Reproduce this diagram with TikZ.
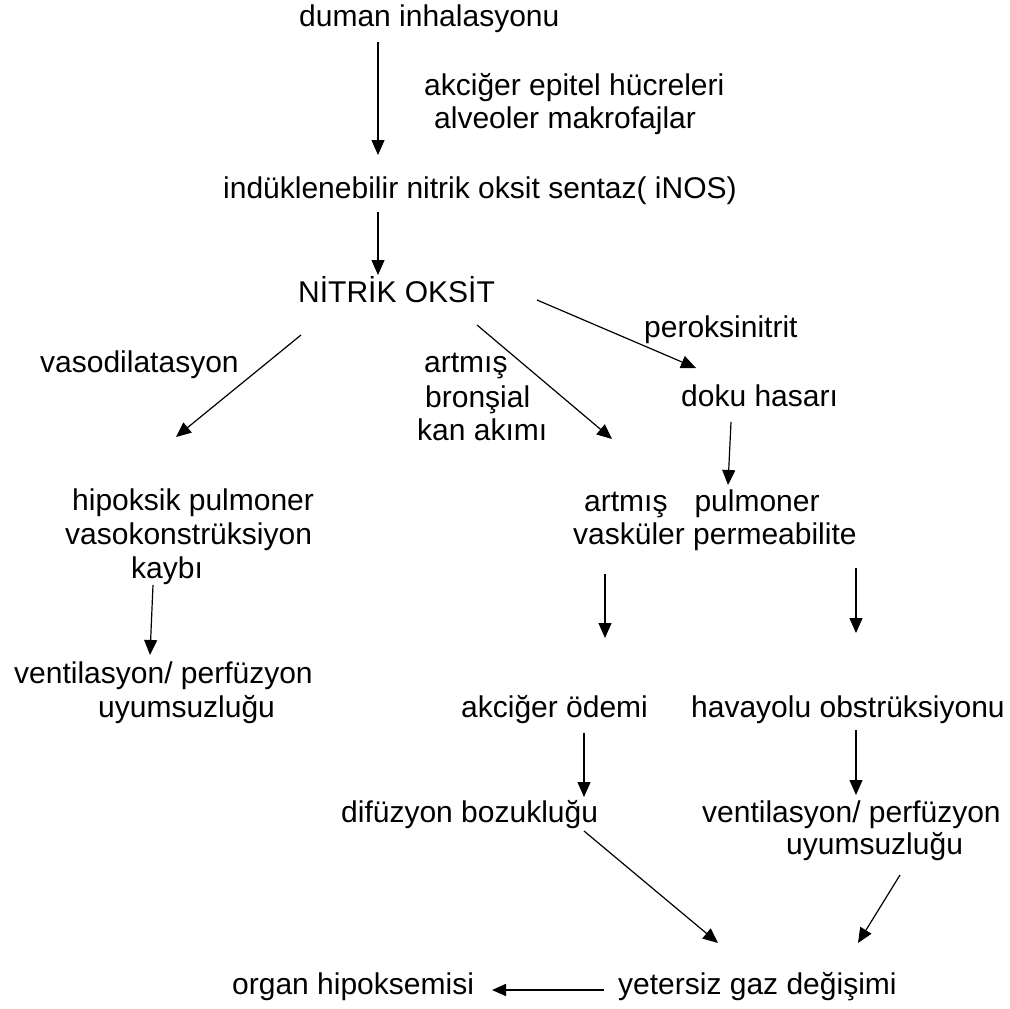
\documentclass[tikz,border=0pt]{standalone}
\usepackage{fontspec}
\setmainfont{Liberation Sans}
\usetikzlibrary{arrows.meta}
\begin{document}
\begin{tikzpicture}[x=1pt,y=-1pt,
  lbl/.style={anchor=base west,inner sep=0pt,font=\fontsize{30}{34}\selectfont},
  arr/.style={draw,line width=1.2pt,-{Triangle[length=15pt,width=13pt]}},
  arrb/.style={draw,line width=1.7pt,-{Triangle[length=14pt,width=12pt]}}]
\useasboundingbox[fill=white] (0,0) rectangle (1010,1009);
% texts
\node[lbl] (duman) at (299,26) {duman inhalasyonu};
\node[lbl] (akc) at (424,95) {akciğer epitel hücreleri};
\node[lbl] (alv) at (434,128) {alveoler makrofajlar};
\node[lbl] (inos) at (223,198) {indüklenebilir nitrik oksit sentaz( iNOS)};
\node[lbl] (no) at (298,302) {NİTRİK OKSİT};
\node[lbl] (perox) at (644,337) {peroksinitrit};
\node[lbl] (vaso) at (40,372) {vasodilatasyon};
\node[lbl] (art1) at (424,372) {artmış};
\node[lbl] (bron) at (425,407) {bronşial};
\node[lbl] (kan) at (417,440) {kan akımı};
\node[lbl] (doku) at (681,406) {doku hasarı};
\node[lbl] (hip1) at (72,510) {hipoksik pulmoner};
\node[lbl] (hip2) at (65,544) {vasokonstrüksiyon};
\node[lbl] (hip3) at (131,578) {kaybı};
\node[lbl] (perm1) at (584,511) {artmış\hspace{27pt}pulmoner};
\node[lbl] (perm2) at (573,544) {vasküler permeabilite};
\node[lbl] (vpl1) at (14,683) {ventilasyon/ perfüzyon};
\node[lbl] (vpl2) at (98,717) {uyumsuzluğu};
\node[lbl] (odem) at (461,717) {akciğer ödemi};
\node[lbl] (hava) at (691,717) {havayolu obstrüksiyonu};
\node[lbl] (dif) at (341,822) {difüzyon bozukluğu};
\node[lbl] (vpr1) at (702,822) {ventilasyon/ perfüzyon};
\node[lbl] (vpr2) at (786,854) {uyumsuzluğu};
\node[lbl] (organ) at (232,994) {organ hipoksemisi};
\node[lbl] (yet) at (618,994) {yetersiz gaz değişimi};
% connector ends
\coordinate (a1s) at (378,42);  \coordinate (a1e) at (378,155);
\coordinate (a2s) at (378,212); \coordinate (a2e) at (378,275);
\coordinate (a3s) at (537,300); \coordinate (a3e) at (696,368);
\coordinate (a4s) at (301,335); \coordinate (a4e) at (176,437);
\coordinate (a5s) at (477,325); \coordinate (a5e) at (612,439);
\coordinate (a6s) at (731,422); \coordinate (a6e) at (728,485);
\coordinate (a7s) at (153,585); \coordinate (a7e) at (150,655);
\coordinate (a8s) at (605,574); \coordinate (a8e) at (605,638);
\coordinate (a9s) at (856,568); \coordinate (a9e) at (856,633);
\coordinate (a10s) at (584,733); \coordinate (a10e) at (584,797);
\coordinate (a11s) at (856,730); \coordinate (a11e) at (856,795);
\coordinate (a12s) at (584,831); \coordinate (a12e) at (718,943);
\coordinate (a13s) at (900,875); \coordinate (a13e) at (858,943);
\coordinate (a14s) at (604,990); \coordinate (a14e) at (492,990);
% connectors
\draw[arr] (a1s) -- (a1e);
\draw[arr] (a2s) -- (a2e);
\draw[arr] (a3s) -- (a3e);
\draw[arr] (a4s) -- (a4e);
\draw[arr] (a5s) -- (a5e);
\draw[arr] (a6s) -- (a6e);
\draw[arr] (a7s) -- (a7e);
\draw[arr] (a8s) -- (a8e);
\draw[arr] (a9s) -- (a9e);
\draw[arr] (a10s) -- (a10e);
\draw[arr] (a11s) -- (a11e);
\draw[arr] (a12s) -- (a12e);
\draw[arr] (a13s) -- (a13e);
\draw[arrb] (a14s) -- (a14e);
\end{tikzpicture}
\end{document}
